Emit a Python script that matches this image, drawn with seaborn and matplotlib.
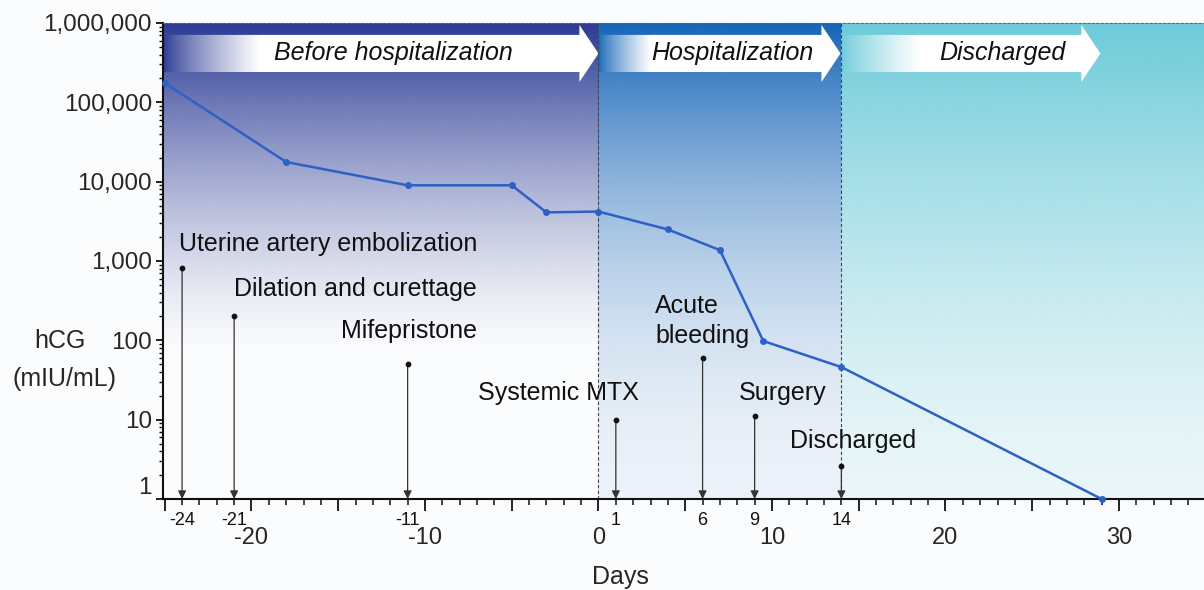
import numpy as np
import seaborn as sns
import matplotlib.pyplot as plt
from matplotlib.patches import Polygon
from matplotlib.colors import to_rgb
import matplotlib.ticker as mticker

# hCG measurements (days relative to admission)
days = [-25, -18, -11, -5, -3, 0, 4, 7, 9.5, 14, 29]
hcg = [175000, 17700, 9000, 9000, 4100, 4200, 2500, 1370, 98, 46, 1]

# clinical events
event_days = [-24, -21, -11, 1, 6, 9, 14]
event_level = [810, 200, 50, 10, 60, 11, 2.6]
event_labels = ["Uterine artery embolization", "Dilation and curettage", "Mifepristone",
                "Systemic MTX", "Acute\nbleeding", "Surgery", "Discharged"]

# phases
phase_names = ["Before hospitalization", "Hospitalization", "Discharged"]
phase_edges = [-25.1, 0, 14, 34.9]
phase_colors = ["#2b3a94", "#1565b8", "#6ccbd9"]

x_major = [-20, -10, 0, 10, 20, 30]

sns.set_theme(style="ticks")
plt.rcParams["font.family"] = ["Liberation Sans", "DejaVu Sans"]

fig = plt.figure(figsize=(12.04, 5.90), dpi=100, facecolor="#fbfcfd")
pos = [163 / 1204, 1 - 499 / 590, 1 - 163 / 1204, (499 - 23) / 590]

# background layer (linear y in axes fraction)
bg = fig.add_axes(pos, zorder=0)
bg.set_xlim(phase_edges[0], phase_edges[-1])
bg.set_ylim(0, 1)
bg.axis("off")

t = np.linspace(0, 1, 300)
alphas = [np.clip((t - 0.3) / 0.7, 0, 1) ** 1.4,
          0.07 + 0.93 * t ** 2,
          0.12 + 0.88 * t ** 1.5]
for i in range(3):
    img = np.zeros((len(t), 1, 4))
    img[..., :3] = to_rgb(phase_colors[i])
    img[..., 3] = alphas[i][:, None]
    bg.imshow(img, extent=(phase_edges[i], phase_edges[i + 1], 0, 1), origin="lower",
              aspect="auto", interpolation="bilinear", zorder=0)

# banner arrows
tips = [0, 13.95, 28.93]
fades = [5.5, 3.0, 4.5]
centers = [-11.8, 7.7, 23.3]
yb, yt, hb, ht = 0.897, 0.975, 0.876, 0.996
for i in range(3):
    x0, tip = phase_edges[i], tips[i]
    hs = tip - 1.1
    poly = Polygon([(x0, yb), (hs, yb), (hs, hb), (tip, (yb + yt) / 2), (hs, ht), (hs, yt), (x0, yt)],
                   closed=True, facecolor="none", edgecolor="none")
    bg.add_patch(poly)
    xs = np.linspace(x0, tip, 400)
    s = np.clip((xs - x0) / fades[i], 0, 1) ** 0.8
    c = np.array(to_rgb(phase_colors[i]))
    row = c[None, :] * (1 - s[:, None]) + np.ones(3)[None, :] * s[:, None]
    im = bg.imshow(row[None, :, :], extent=(x0, tip, hb, ht), origin="lower",
                   aspect="auto", interpolation="bilinear", zorder=2)
    im.set_clip_path(poly)
    bg.text(centers[i], 0.937, phase_names[i], style="italic", fontsize=18,
            ha="center", va="center", color="#111111", zorder=3)

bg.set_xlim(phase_edges[0], phase_edges[-1])
bg.set_ylim(0, 1)

# main data axes
ax = fig.add_axes(pos, zorder=1)
ax.set_facecolor("none")
ax.set_yscale("log")

for d in [0, 14]:
    ax.axvline(d, color="#444444", lw=0.8, ls=(0, (3, 2)), zorder=1)

sns.lineplot(x=days, y=hcg, ax=ax, color="#2f60c6", lw=1.8, marker="o",
             markersize=5, markeredgewidth=0, clip_on=False, zorder=4)

label_pos = [(-7.0, 1630), (-7.0, 443), (-7.0, 131), (-2.3, 21.6), (3.26, 175), (10.6, 21.9), (14.65, 5.4)]
label_ha = ["right", "right", "right", "center", "left", "center", "center"]
for d, lv, lab, p, ha in zip(event_days, event_level, event_labels, label_pos, label_ha):
    ax.annotate("", xy=(d, 1), xytext=(d, lv),
                arrowprops=dict(arrowstyle="-|>", color="#333333", lw=0.9,
                                mutation_scale=12, shrinkA=0, shrinkB=0), zorder=3)
    ax.text(p[0], p[1], lab, fontsize=18, ha=ha, va="center", color="#111111",
            linespacing=1.3, zorder=5)
    ax.text(d, -0.045, str(d), transform=ax.get_xaxis_transform(), fontsize=13,
            ha="center", va="center", color="#111111")
ax.scatter(event_days, event_level, s=10, color="#111111", zorder=4)

ax.set_xlim(phase_edges[0], phase_edges[-1])
ax.set_ylim(1, 1e6)

ticks5 = list(range(-25, 35, 5))
ax.set_xticks(ticks5)
ax.set_xticklabels([str(v) if v in x_major else "" for v in ticks5], fontsize=17)
ax.xaxis.set_minor_locator(mticker.MultipleLocator(1))
ax.set_yticks([10 ** k for k in range(7)])
ax.set_yticklabels([f"{10 ** k:,}" for k in range(7)], fontsize=17.5)
ax.yaxis.set_minor_locator(mticker.LogLocator(base=10, subs=np.arange(2, 10)))
ax.yaxis.set_minor_formatter(mticker.NullFormatter())
ax.get_yticklabels()[0].set_verticalalignment("bottom")

ax.tick_params(axis="x", which="major", length=8.5, width=1.3, pad=12, color="#111111")
ax.tick_params(axis="x", which="minor", length=4, width=1.1, color="#111111")
ax.tick_params(axis="y", which="major", length=5, width=1.3, pad=3, color="#111111")
ax.tick_params(axis="y", which="minor", length=3, width=1.0, color="#111111")

for side in ["left", "bottom"]:
    ax.spines[side].set_linewidth(1.5)
    ax.spines[side].set_color("#111111")
ax.spines["right"].set_visible(False)
ax.spines["top"].set_linestyle((0, (2, 2)))
ax.spines["top"].set_linewidth(0.8)
ax.spines["top"].set_color("#666666")

fig.text(60 / 1204, 1 - 341 / 590, "hCG", fontsize=18, ha="center", va="center")
fig.text(65 / 1204, 1 - 379 / 590, "(mIU/mL)", fontsize=18, ha="center", va="center")
fig.text(620 / 1204, 1 - 577 / 590, "Days", fontsize=18, ha="center", va="center")

fig.savefig("out.png", dpi=100, facecolor=fig.get_facecolor())
